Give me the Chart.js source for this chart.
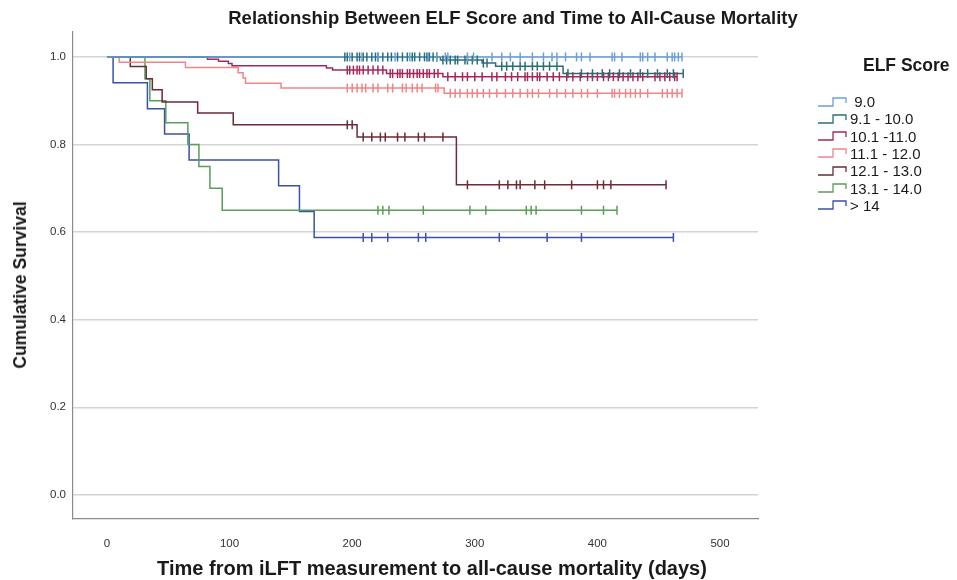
<!DOCTYPE html>
<html>
<head>
<meta charset="utf-8">
<title>ELF Score and Time to All-Cause Mortality</title>
<script src="https://cdn.jsdelivr.net/npm/chart.js@4.4.1/dist/chart.umd.min.js"></script>
<style>
  html, body { margin: 0; padding: 0; background: #fff; }
  #wrap {
    position: relative;
    width: 957px;
    height: 580px;
    font-family: "Liberation Sans", Arial, sans-serif;
    color: #1a1a1a;
  }
  #chart { position: absolute; left: 0; top: 0; }
  .label { position: absolute; font-weight: bold; white-space: nowrap; }
  #main-title { left: 513px; top: 7px; font-size: 18.5px; line-height: 22px; transform: translateX(-50%); }
  #x-title { left: 432px; top: 557px; font-size: 20px; line-height: 23px; transform: translateX(-50%); }
  #y-title { left: 20px; top: 285px; font-size: 17.5px; line-height: 20px; transform: translate(-50%, -50%) rotate(-90deg); }
  #legend { position: absolute; left: 817px; top: 55px; }
  #legend-title { position: absolute; left: 46px; top: 0; font-size: 17.5px; line-height: 20px; font-weight: bold; white-space: nowrap; }
  .legend-row { position: absolute; left: 0; height: 17px; display: flex; align-items: center; white-space: nowrap; font-size: 15px; }
  .legend-row svg { margin-right: 2px; }
</style>
</head>
<body>
<div id="wrap">
  <canvas id="chart" width="957" height="580"></canvas>
  <div class="label" id="main-title">Relationship Between ELF Score and Time to All-Cause Mortality</div>
  <div class="label" id="y-title">Cumulative Survival</div>
  <div class="label" id="x-title">Time from iLFT measurement to all-cause mortality (days)</div>
  <div id="legend"><div id="legend-title">ELF Score</div></div>
</div>
<script>
// ELF score groups, in legend order
const groupLabels = [" 9.0", "9.1 - 10.0", "10.1 -11.0", "11.1 - 12.0", "12.1 - 13.0", "13.1 - 14.0", "> 14"];
const groupColors = ["#6d9fd6", "#2a6f76", "#a3285c", "#ef8585", "#6b2b37", "#5a9e5a", "#3a52a6"];

// days of each death and the survival estimate just after it
const elf90Events = [];
const elf90Survival = [];
const elf90Censored = [198, 208, 221, 235, 247, 262, 269, 276, 278, 294, 299, 314, 322, 329, 337, 347, 356, 363, 367, 374, 383, 387, 394, 412, 414, 420, 435, 437, 441, 447, 457, 461, 463, 466, 469];

const elf91Events = [272, 306, 317, 372];
const elf91Survival = [0.993, 0.986, 0.979, 0.962];
const elf91Censored = [194, 196, 200, 204, 206, 209, 212, 216, 219, 221, 225, 229, 232, 237, 241, 245, 249, 251, 255, 259, 261, 263, 266, 269,
  274, 277, 280, 284, 286, 292, 294, 298, 302, 307, 310, 322, 326, 331, 337, 341, 347, 351, 356, 361, 367,
  376, 387, 396, 404, 410, 418, 427, 435, 441, 449, 457, 462, 470];

const elf101Events = [82, 91, 99, 102, 179, 184, 228, 274];
const elf101Survival = [0.995, 0.990, 0.985, 0.980, 0.975, 0.970, 0.962, 0.955];
const elf101Censored = [196, 198, 201, 204, 206, 209, 213, 217, 221, 225, 231, 233, 237, 239, 241, 245, 247, 250, 253, 255, 258, 261, 263, 267, 270,
  278, 284, 290, 294, 300, 306, 314, 318, 325, 330, 335, 341, 343, 347, 351, 353, 359, 364, 369, 375, 380, 386, 392, 396,
  400, 405, 409, 413, 417, 421, 425, 429, 433, 437, 447, 451, 455, 459, 463, 465];

const elf111Events = [10, 64, 107, 111, 113, 142, 275];
const elf111Survival = [0.988, 0.976, 0.964, 0.952, 0.940, 0.929, 0.917];
const elf111Censored = [196, 200, 204, 208, 211, 217, 221, 229, 233, 241, 244, 249, 253, 257, 268, 270,
  280, 284, 288, 294, 298, 302, 307, 312, 318, 325, 331, 337, 343, 347, 352, 361, 367, 374, 380, 387, 392, 400,
  412, 414, 418, 423, 427, 431, 435, 441, 453, 457, 461, 465, 469];

const elf121Events = [19, 32, 37, 45, 74, 103, 204, 285];
const elf121Survival = [0.978, 0.950, 0.925, 0.897, 0.872, 0.845, 0.817, 0.708];
const elf121Censored = [196, 200, 209, 216, 223, 227, 237, 243, 254, 259, 274, 294, 320, 327, 334, 337, 349, 357, 379, 400, 405, 411, 456];

const elf131Events = [31, 35, 48, 66, 75, 84, 94];
const elf131Survival = [0.95, 0.90, 0.85, 0.80, 0.75, 0.70, 0.65];
const elf131Censored = [221, 225, 230, 258, 296, 309, 342, 346, 350, 387, 405, 416];

const elf14Events = [5, 33, 47, 67, 140, 157, 169];
const elf14Survival = [0.941, 0.882, 0.824, 0.765, 0.706, 0.647, 0.588];
const elf14Censored = [209, 216, 229, 254, 260, 320, 359, 387, 462];

const groupEvents = [elf90Events, elf91Events, elf101Events, elf111Events, elf121Events, elf131Events, elf14Events];
const groupSurvival = [elf90Survival, elf91Survival, elf101Survival, elf111Survival, elf121Survival, elf131Survival, elf14Survival];
const groupCensored = [elf90Censored, elf91Censored, elf101Censored, elf111Censored, elf121Censored, elf131Censored, elf14Censored];

// axis ticks
const xTickValues = [0, 100, 200, 300, 400, 500];
const yTickValues = [0, 0.2, 0.4, 0.6, 0.8, 1.0];

// survival of a group at a given day (step function)
const survivalAt = (events, survival, day) => {
  let s = 1;
  events.forEach((t, i) => {
    if (t <= day) s = survival[i];
  });
  return s;
};

const prepareDatasets = () => {
  const lines = [];
  const marks = [];
  groupLabels.forEach((label, g) => {
    const events = groupEvents[g];
    const survival = groupSurvival[g];
    const censored = groupCensored[g];
    const lastDay = Math.max(...censored, ...events);
    const points = [{ x: 0, y: 1 }];
    events.forEach((t, i) => points.push({ x: t, y: survival[i] }));
    points.push({ x: lastDay, y: survivalAt(events, survival, lastDay) });

    lines.push({
      label: label,
      data: points,
      stepped: true,
      borderColor: groupColors[g],
      borderWidth: 1.5,
      pointRadius: 0,
      fill: false,
      order: 10 + g,
    });
    marks.push({
      label: label + " censored",
      data: censored.map((t) => ({ x: t, y: survivalAt(events, survival, t) })),
      showLine: false,
      pointStyle: "line",
      rotation: 90,
      pointRadius: 4.5,
      pointBorderWidth: 1.5,
      borderColor: groupColors[g],
      backgroundColor: groupColors[g],
      order: g,
    });
  });
  return lines.concat(marks);
};

const buildLegend = () => {
  const legend = document.getElementById("legend");
  groupLabels.forEach((label, g) => {
    const row = document.createElement("div");
    row.className = "legend-row";
    row.style.top = (38 + g * 17.3) + "px";
    row.innerHTML =
      '<svg width="31" height="12"><polyline points="1,10 16,10 16,2 29,2 29,7" fill="none" stroke="' +
      groupColors[g] + '" stroke-width="1.3"/></svg><span>' + label.replace(/ /g, "&nbsp;") + "</span>";
    legend.appendChild(row);
  });
};

const createChart = (canvas) => {
  new Chart(canvas, {
    type: "line",
    data: { datasets: prepareDatasets() },
    options: {
      responsive: false,
      animation: false,
      layout: { padding: { left: 0, top: 32, right: 199, bottom: 0 } },
      plugins: {
        legend: { display: false },
        title: { display: false },
        tooltip: { enabled: false },
      },
      scales: {
        x: {
          type: "linear",
          min: -27.7,
          max: 531,
          afterFit: (scale) => { scale.height = 61; },
          afterBuildTicks: (scale) => { scale.ticks = xTickValues.map((v) => ({ value: v })); },
          grid: { display: false },
          border: { display: true, color: "#8c8c8c", width: 1.2 },
          ticks: {
            padding: 10,
            color: "#333",
            font: { family: "Liberation Sans", size: 11.5 },
            maxRotation: 0,
          },
        },
        y: {
          type: "linear",
          min: -0.055,
          max: 1.057,
          afterFit: (scale) => { scale.width = 73; },
          afterBuildTicks: (scale) => { scale.ticks = yTickValues.map((v) => ({ value: v })); },
          grid: { color: "#d3d3d3", lineWidth: 1.5, drawTicks: false },
          border: { display: true, color: "#8c8c8c", width: 1.2 },
          ticks: {
            padding: 7,
            color: "#333",
            font: { family: "Liberation Sans", size: 11.5 },
            callback: (value) => Number(value).toFixed(1),
          },
        },
      },
    },
  });
};

buildLegend();
createChart(document.getElementById("chart"));
</script>
</body>
</html>
